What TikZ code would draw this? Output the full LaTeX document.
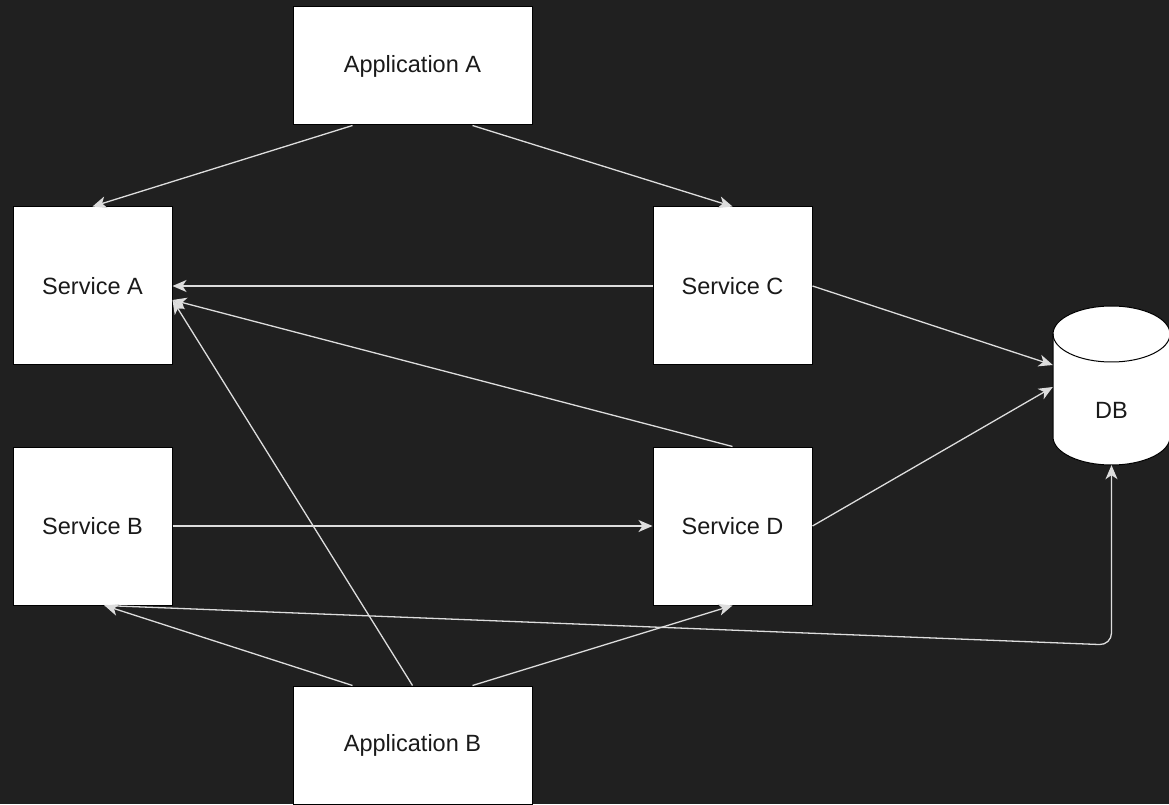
\documentclass[tikz,border=0pt]{standalone}
\usepackage{fontspec}
\setmainfont{Liberation Sans}
\usetikzlibrary{arrows.meta}
\definecolor{bg}{HTML}{202020}
\definecolor{edge}{HTML}{DDDDDD}
\definecolor{txt}{HTML}{1A1A1A}
\tikzset{
  box/.style={draw=black, line width=1pt, fill=white, inner sep=0pt, text=txt,
    font=\fontsize{23.5}{28}\selectfont},
  svc/.style={box, minimum width=159pt, minimum height=158pt},
  app/.style={box, minimum width=239pt, minimum height=118pt},
  conn/.style={draw=edge, line width=1.3pt,
    -{Stealth[length=14pt,width=12pt,inset=4pt]}}
}
\begin{document}
\begin{tikzpicture}[x=1pt,y=1pt]
\useasboundingbox (0,0) rectangle (1169,804);
\fill[bg] (0,0) rectangle (1169,804);
% nodes
\node[app] (appA) at (412.5,738) {Application A};
\node[svc] (svcA) at (92.5,518) {Service A};
\node[svc] (svcC) at (732.5,518) {Service C};
\node[svc] (svcB) at (92.5,278) {Service B};
\node[svc] (svcD) at (732.5,278) {Service D};
\node[app] (appB) at (412.5,59) {Application B};
% DB cylinder
\fill[white, draw=black, line width=1pt] (1053,470) -- (1053,367) arc (180:360:58.5pt and 28pt)
  -- (1170,470) arc (0:180:58.5pt and 28pt) -- cycle;
\draw[black, line width=1pt] (1053,470) arc (180:360:58.5pt and 28pt);
\node[inner sep=0pt, minimum width=117pt, minimum height=158pt] (db) at (1111.5,418) {};
\node[inner sep=0pt, text=txt, font=\fontsize{23.5}{28}\selectfont] (dblabel)
  at ([yshift=-24pt]db.center) {DB};
\coordinate (bend) at (1111.5,159);
% connectors
\draw[conn] ([xshift=-60pt]appA.south) -- (svcA.north);
\draw[conn] ([xshift=60pt]appA.south) -- (svcC.north);
\draw[conn] (svcC.west) -- (svcA.east);
\draw[conn] (svcD.north) -- ([yshift=-14pt]svcA.east);
\draw[conn] (appB.north) -- ([yshift=-14pt]svcA.east);
\draw[conn] (svcC.east) -- ([yshift=21pt]db.west);
\draw[conn] (svcD.east) -- ([yshift=-1pt]db.west);
\draw[conn] (svcB.east) -- (svcD.west);
\draw[conn] ([xshift=-60pt]appB.north) -- ([xshift=12pt]svcB.south);
\draw[conn] ([xshift=60pt]appB.north) -- (svcD.south);
\draw[conn, rounded corners=12pt] ([xshift=12pt]svcB.south) -- (bend) -- (db.south);
\end{tikzpicture}
\end{document}
